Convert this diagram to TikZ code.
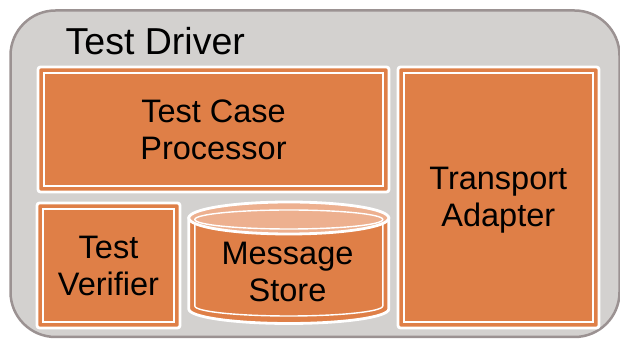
\documentclass[tikz,border=0pt]{standalone}
\usepackage{fontspec}
\setmainfont{Liberation Sans}
\definecolor{boxorange}{HTML}{DF7F47}
\definecolor{toplight}{HTML}{EDB08F}
\definecolor{panelgray}{HTML}{D3D1CF}
\definecolor{panelline}{HTML}{9B9292}
\begin{document}
\begin{tikzpicture}[x=1pt,y=1pt,
  panel/.style={draw=panelline, line width=2.5pt, fill=panelgray, rounded corners=45pt},
  blockbox/.style={draw=white, line width=2.8pt, fill=boxorange, rounded corners=2.5pt, inner sep=0pt, outer sep=0pt},
  innerline/.style={draw=white, line width=1.4pt},
  cylbody/.style={draw=white, line width=2.8pt, fill=boxorange},
  cyltop/.style={draw=white, line width=2.8pt, fill=toplight},
  lbl/.style={font=\fontsize{32.5}{37}\selectfont, align=center, inner sep=0pt, text=black},
  titlelbl/.style={font=\fontsize{37.5}{44}\selectfont, inner sep=0pt, anchor=base west, text=black}]
\useasboundingbox (0,0) rectangle (620,339);
% panel
\draw[panel] (10.5,2) rectangle (619.5,328.5);
% Test Case Processor
\node[blockbox, minimum width=351pt, minimum height=125pt] (tcp) at (213.5,209.5) {};
\draw[innerline] ([shift={(6pt,-6pt)}]tcp.north west) rectangle ([shift={(-6pt,6pt)}]tcp.south east);
% Transport Adapter
\node[blockbox, minimum width=201pt, minimum height=261pt] (ta) at (498.5,141.5) {};
\draw[innerline] ([shift={(6pt,-6pt)}]ta.north west) rectangle ([shift={(-6pt,6pt)}]ta.south east);
% Test Verifier
\node[blockbox, minimum width=143pt, minimum height=125pt] (tv) at (108.5,73.5) {};
\draw[innerline] ([shift={(6pt,-6pt)}]tv.north west) rectangle ([shift={(-6pt,6pt)}]tv.south east);
% Message Store cylinder
\coordinate (ms) at (288.8,121);
\draw[cylbody] (188.8,121) -- (188.8,30) arc[start angle=180,end angle=360,x radius=100pt,y radius=14.5pt] -- (388.8,121) -- cycle;
\draw[innerline] (194.8,115) -- (194.8,33) arc[start angle=180,end angle=360,x radius=94pt,y radius=10pt] -- (382.8,115);
\draw[cyltop] (ms) ellipse [x radius=100pt, y radius=16pt];
\draw[innerline] (288.8,119.5) ellipse [x radius=94pt, y radius=9.5pt];
% texts
\node[titlelbl] (td) at (65.5,284) {Test Driver};
\node[lbl] (tcpt) at (213.5,209) {Test Case\\Processor};
\node[lbl] (tat) at (498.3,138.7) {Transport\\Adapter};
\node[lbl] (tvt) at (108.5,73) {Test\\Verifier};
\node[lbl] (mst) at (287.5,67.5) {Message\\Store};
\end{tikzpicture}
\end{document}
